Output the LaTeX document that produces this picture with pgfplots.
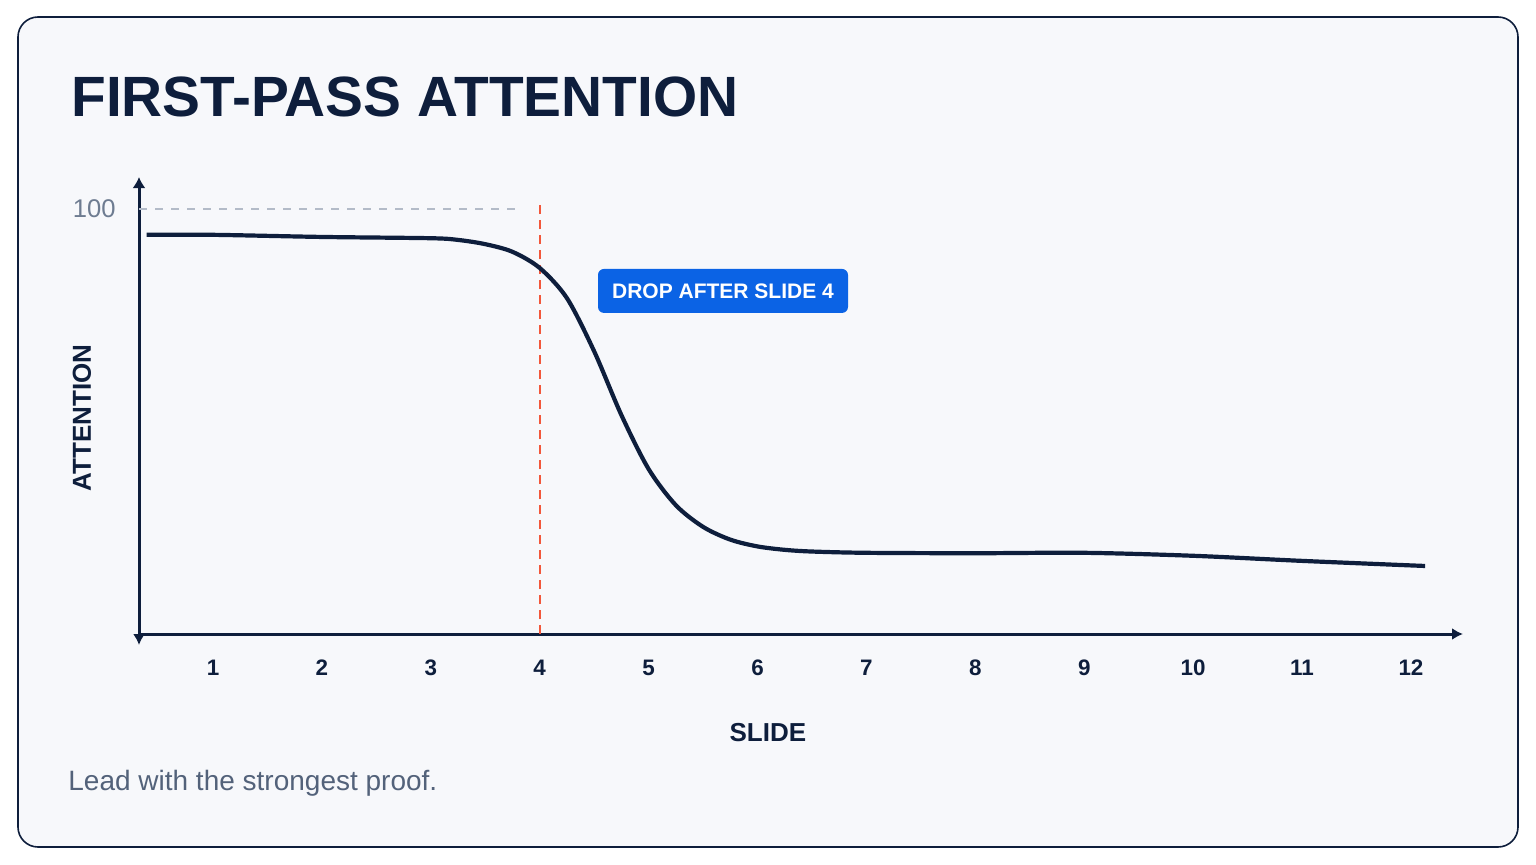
\documentclass[border=0pt]{standalone}
\usepackage{pgfplots}
\pgfplotsset{compat=1.18}
\usepackage{fontspec}
\setmainfont{Liberation Sans}
\usetikzlibrary{arrows.meta}

\definecolor{navy}{HTML}{0E1E3C}
\definecolor{cardbg}{HTML}{F7F8FB}
\definecolor{tickgray}{HTML}{6E7C91}
\definecolor{refgray}{HTML}{B3BBC8}
\definecolor{dropred}{HTML}{F2573B}
\definecolor{tagblue}{HTML}{0B63E5}
\definecolor{subgray}{HTML}{53627A}

\pgfplotstableread{
x      y
0.39   93.9
1.00   93.9
2.00   93.4
3.00   93.1
3.25   92.7
3.50   91.7
3.75   89.9
4.00   86.1
4.25   79.0
4.50   66.5
4.75   51.5
5.00   38.8
5.25   30.3
5.50   25.2
5.75   22.2
6.00   20.6
6.25   19.8
6.50   19.4
7.00   19.1
8.00   19.0
9.00   19.1
10.00  18.4
11.00  17.2
12.13  16.0
}\attention

\begin{document}
\begin{tikzpicture}
% card
\fill[white] (0pt,0pt) rectangle (768pt,432pt);
\filldraw[fill=cardbg, draw=navy, line width=0.8pt, rounded corners=10pt]
  (9pt,8.5pt) rectangle (759pt,423.5pt);
\node[anchor=base west, inner sep=0pt, text=navy,
      font=\fontsize{28.4}{32}\selectfont\bfseries] at (35.5pt,373.5pt) {FIRST-PASS ATTENTION};
\node[anchor=west, inner sep=0pt, text=subgray,
      font=\fontsize{14}{16}\selectfont] at (34pt,40.5pt) {Lead with the strongest proof.};

\begin{axis}[
  at={(69.5pt,115pt)}, anchor=south west,
  scale only axis, width=662pt, height=228.5pt,
  xmin=0.3205, xmax=12.478, ymin=0, ymax=107.5,
  clip=false,
  axis lines=left,
  axis line style={draw=navy, line width=1.5pt},
  x axis line style={-{Latex[length=5.5pt,width=6pt]}},
  y axis line style={{Latex[length=5.5pt,width=6pt]}-{Latex[length=5.5pt,width=6.5pt]}, shorten <=-5.5pt},
  xtick={1,...,12}, ytick={100},
  major tick length=0pt,
  tick style={draw=none},
  /pgf/number format/assume math mode=true,
  xticklabel style={anchor=center, yshift=-17pt, text=navy,
                    font=\fontsize{11.2}{13}\selectfont\bfseries},
  yticklabel style={anchor=east, inner sep=0pt, xshift=-11.5pt, text=tickgray,
                    font=\fontsize{12.8}{14}\selectfont},
  xlabel={SLIDE},
  xlabel style={at={(axis description cs:0.475,-0.2166)}, anchor=center, text=navy,
                font=\fontsize{13}{15}\selectfont\bfseries},
  ylabel={ATTENTION},
  ylabel style={at={(axis description cs:-0.04305,0.4726)}, anchor=center, text=navy,
                font=\fontsize{13}{15}\selectfont\bfseries},
]
\addplot[refgray, line width=0.7pt, dash pattern=on 4pt off 4pt]
  coordinates {(0.3205,100) (3.83,100)};
\addplot[dropred, line width=1.2pt, dash pattern=on 4.5pt off 3pt]
  coordinates {(4,0) (4,101.9)};
\addplot[navy, line width=2.1pt, smooth] table[x=x, y=y] {\attention};
\node[fill=tagblue, rounded corners=3pt, text=white, inner sep=0pt,
      minimum width=125pt, minimum height=22pt,
      font=\fontsize{10.5}{12}\selectfont\bfseries] at (axis cs:5.683,80.7) {DROP AFTER SLIDE 4};
\end{axis}
\end{tikzpicture}
\end{document}
